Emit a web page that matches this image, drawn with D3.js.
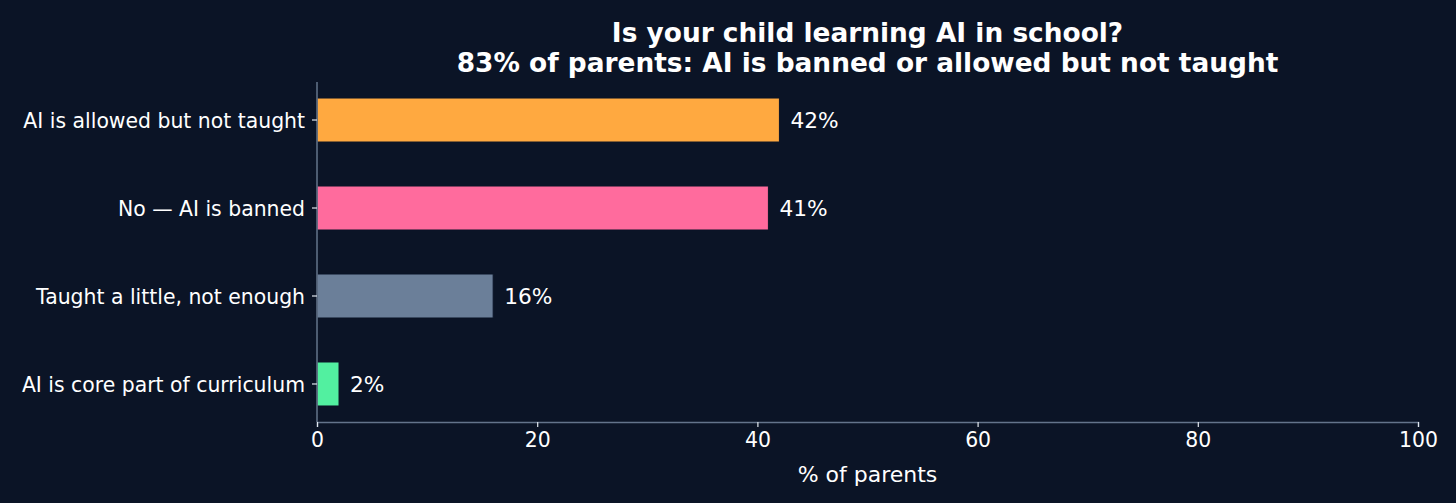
<!DOCTYPE html>
<html>
<head>
<meta charset="utf-8">
<script src="https://cdn.jsdelivr.net/npm/d3@7"></script>
<style>
  html, body { margin: 0; padding: 0; background: #0b1426; }
  svg { display: block; font-family: "DejaVu Sans", sans-serif; }
</style>
</head>
<body>
<div id="chart"></div>
<script>
const categories = ["AI is allowed but not taught", "No — AI is banned", "Taught a little, not enough", "AI is core part of curriculum"];
const values = [42, 41, 16, 2];
const barColors = ["#ffa940", "#ff6b9d", "#6b7f99", "#52f0a0"];
const xTicks = [0, 20, 40, 60, 80, 100];
const titleLines = ["Is your child learning AI in school?", "83% of parents: AI is banned or allowed but not taught"];

let width = 1456, height = 503, margin = { top: 82, right: 38, bottom: 81, left: 317 };
let innerW = width - margin.left - margin.right, innerH = height - margin.top - margin.bottom;

let svg = d3.select("#chart")
    .append("svg")
    .attr("width", width)
    .attr("height", height);

svg.append("rect").attr("width", width).attr("height", height).attr("fill", "#0b1426");

let g = svg.append("g").attr("transform", `translate(${margin.left},${margin.top})`);

let x = d3.scaleLinear().domain([0, 100]).range([0, innerW]);
let y = d3.scaleBand().domain(categories).range([0, innerH]).paddingInner(0.5).paddingOuter(0.182);

// bars
g.selectAll(".bar")
    .data(values)
    .enter()
    .append("rect")
    .attr("x", x(0))
    .attr("y", (d, i) => y(categories[i]))
    .attr("width", d => x(d) - x(0))
    .attr("height", y.bandwidth())
    .attr("fill", (d, i) => barColors[i])
    .attr("stroke", "#0b1426")
    .attr("stroke-width", 1);

// value labels
g.selectAll(".val")
    .data(values)
    .enter()
    .append("text")
    .attr("x", d => x(d + 1))
    .attr("y", (d, i) => y(categories[i]) + y.bandwidth() / 2)
    .attr("dy", "0.36em")
    .attr("fill", "#ffffff")
    .attr("font-size", "21.7px")
    .text(d => d + "%");

// x axis
let xAxis = g.append("g")
    .attr("transform", `translate(0,${innerH})`)
    .call(d3.axisBottom(x).tickValues(xTicks).tickSize(5).tickPadding(6));
xAxis.select(".domain").attr("stroke", "#64748b").attr("stroke-width", 1.5);
xAxis.selectAll(".tick line").attr("stroke", "#e2e8f0").attr("stroke-width", 1.2);
xAxis.selectAll(".tick text").attr("fill", "#ffffff").attr("font-size", "20.4px").attr("font-family", "DejaVu Sans");

// y axis
let yAxis = g.append("g")
    .call(d3.axisLeft(y).tickSize(5).tickPadding(7));
yAxis.select(".domain").attr("d", `M0,0V${innerH}`).attr("stroke", "#64748b").attr("stroke-width", 1.5);
yAxis.selectAll(".tick line").attr("stroke", "#e2e8f0").attr("stroke-width", 1.2);
yAxis.selectAll(".tick text").attr("fill", "#ffffff").attr("font-size", "20.4px").attr("font-family", "DejaVu Sans").attr("dy", "0.4em");

// axis label
svg.append("text")
    .attr("x", margin.left + innerW / 2)
    .attr("y", 482)
    .attr("text-anchor", "middle")
    .attr("fill", "#ffffff")
    .attr("font-size", "22px")
    .text("% of parents");

// title
svg.append("text")
    .attr("x", margin.left + innerW / 2)
    .attr("y", 42)
    .attr("text-anchor", "middle")
    .attr("fill", "#ffffff")
    .attr("font-size", "26.4px")
    .attr("font-weight", "bold")
    .selectAll("tspan")
    .data(titleLines)
    .enter()
    .append("tspan")
    .attr("x", margin.left + innerW / 2)
    .attr("dy", (d, i) => i === 0 ? 0 : 30)
    .text(d => d);
</script>
</body>
</html>
